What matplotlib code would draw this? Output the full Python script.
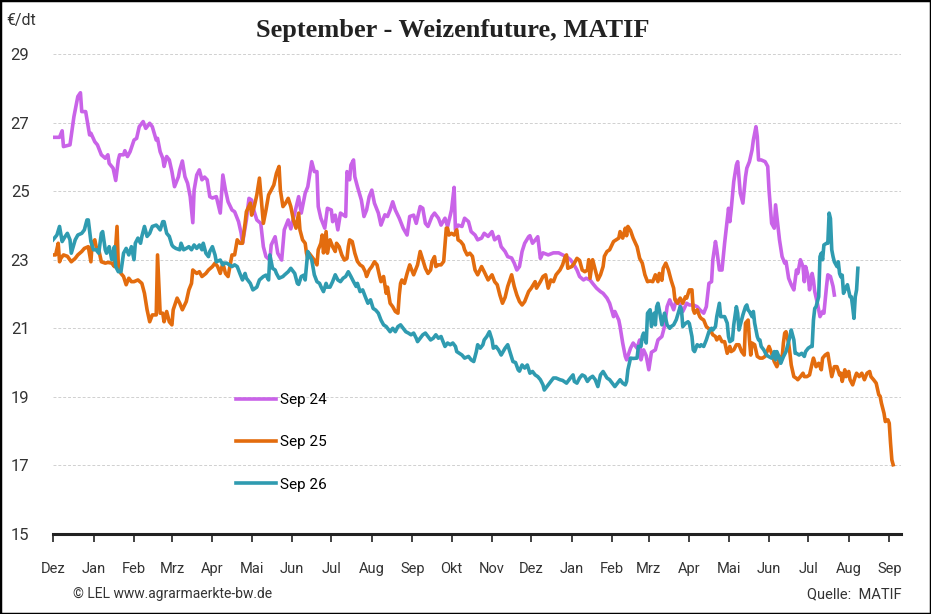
import numpy as np
import pandas as pd
import matplotlib
matplotlib.use("Agg")
import matplotlib.pyplot as plt
from matplotlib.patches import Rectangle

# days since 2023-12-01 and prices in EUR/dt
sep24_days = [0, 5, 7, 8, 13, 16, 19, 21, 22, 25, 28, 29, 32, 34, 37, 40, 42, 43, 46, 48, 50, 51, 54, 55, 57, 59,
              62, 64, 66, 69, 71, 74, 76, 79, 80, 82, 84, 85, 87, 89, 91, 93, 96, 97, 99, 101, 103, 105, 107, 108,
              110, 112, 114, 116, 118, 120, 122, 125, 128, 130, 132, 134, 137, 139, 142, 144, 145, 148, 150, 152,
              154, 156, 159, 161, 163, 166, 167, 170, 172, 175, 177, 180, 182, 185, 188, 190, 193, 195, 198, 200,
              202, 203, 205, 208, 210, 213, 214, 216, 218, 220, 222, 224, 225, 227, 228, 230, 231, 233, 236, 238,
              240, 242, 244, 246, 249, 251, 254, 256, 258, 260, 262, 265, 268, 271, 273, 276, 278, 281, 283, 285,
              287, 290, 292, 295, 297, 300, 302, 305, 307, 308, 310, 313, 315, 318, 320, 323, 325, 328, 330, 333,
              336, 338, 341, 343, 346, 348, 351, 353, 355, 357, 359, 361, 364, 365, 367, 369, 371, 373, 375, 379,
              383, 387, 390, 393, 396, 398, 401, 403, 406, 408, 411, 413, 416, 419, 421, 424, 426, 429, 430, 433,
              434, 436, 438, 439, 442, 444, 447, 449, 450, 452, 454, 456, 458, 461, 463, 466, 468, 470, 472, 475,
              477, 480, 482, 485, 487, 490, 493, 495, 498, 500, 502, 504, 505, 507, 508, 510, 512, 514, 516, 517,
              518, 519, 521, 523, 524, 526, 528, 530, 531, 533, 535, 536, 538, 539, 540, 542, 545, 547, 548, 550,
              552, 553, 555, 556, 558, 560, 561, 563, 565, 567, 569, 570, 572, 574, 575, 576, 578, 579, 581, 582,
              583, 585, 587, 589, 590, 592, 593, 595, 597, 598]
sep24_vals = [26.57, 26.57, 26.76, 26.30, 26.35, 27.17, 27.76, 27.87, 27.32, 27.32, 26.64, 26.69, 26.44, 26.35,
              26.06, 25.96, 26.06, 25.81, 25.67, 25.31, 25.91, 26.06, 26.06, 26.18, 26.01, 26.15, 26.49, 26.54,
              26.88, 27.03, 26.83, 26.98, 26.88, 26.49, 26.54, 26.15, 25.96, 25.72, 26.01, 25.91, 25.57, 25.13,
              25.42, 25.62, 25.88, 25.42, 25.23, 24.84, 24.08, 25.03, 25.47, 25.62, 25.33, 25.41, 25.33, 24.84,
              24.80, 24.84, 24.36, 25.47, 25.03, 24.69, 24.45, 24.40, 24.11, 23.77, 23.48, 24.16, 24.79, 24.74,
              24.40, 24.16, 24.06, 23.38, 23.09, 22.99, 23.43, 23.67, 23.19, 22.99, 23.87, 24.16, 23.90, 24.36,
              24.84, 24.36, 24.94, 25.13, 25.86, 25.57, 25.57, 24.55, 24.21, 23.92, 24.50, 24.45, 24.11, 24.30,
              23.87, 24.36, 24.31, 24.26, 25.57, 25.33, 25.76, 25.91, 25.42, 25.13, 24.74, 24.26, 24.45, 24.84,
              25.03, 24.65, 24.36, 24.01, 24.31, 24.26, 24.45, 24.69, 24.45, 24.21, 23.92, 23.72, 24.26, 24.30,
              24.06, 24.55, 24.50, 24.06, 23.97, 24.26, 24.36, 24.21, 24.01, 24.21, 23.97, 24.45, 25.11, 23.87,
              24.01, 23.97, 24.21, 24.11, 23.82, 23.72, 23.58, 23.63, 23.77, 23.68, 23.82, 23.58, 23.68, 23.38,
              23.24, 23.09, 23.05, 22.90, 22.70, 22.80, 23.24, 23.48, 23.67, 23.70, 23.48, 23.57, 23.67, 23.04,
              23.20, 23.14, 23.20, 23.20, 23.14, 23.09, 23.00, 22.90, 22.70, 22.51, 22.41, 22.46, 22.41, 22.31,
              22.17, 22.07, 22.02, 21.88, 21.73, 21.34, 21.49, 21.24, 21.05, 20.57, 20.18, 20.08, 20.42, 20.57,
              20.42, 20.66, 20.08, 20.37, 20.20, 19.79, 20.30, 20.37, 20.66, 20.76, 21.05, 21.63, 21.83, 21.54,
              21.83, 21.68, 21.49, 21.73, 21.68, 21.68, 21.63, 21.54, 21.44, 21.63, 22.31, 22.36, 23.00, 23.53,
              23.29, 22.70, 22.70, 23.48, 24.16, 24.50, 24.11, 24.45, 25.28, 25.76, 25.86, 24.94, 24.65, 25.42,
              25.67, 25.86, 26.20, 26.49, 26.88, 26.59, 25.91, 25.91, 25.86, 25.72, 25.03, 24.06, 23.92, 24.60,
              23.92, 23.58, 23.09, 22.90, 22.95, 22.46, 22.27, 22.12, 22.70, 22.60, 23.00, 22.80, 22.36, 22.80,
              22.50, 22.12, 22.60, 22.40, 22.07, 21.73, 21.34, 21.49, 21.44, 22.22, 22.56, 22.51, 22.22, 21.97]

sep25_days = [0, 2, 4, 5, 6, 8, 11, 14, 17, 19, 22, 24, 27, 29, 30, 32, 33, 35, 37, 40, 42, 45, 47, 49, 50, 52,
              54, 56, 58, 60, 62, 65, 68, 70, 72, 74, 76, 79, 80, 82, 84, 85, 87, 89, 91, 92, 95, 97, 99, 102, 104,
              106, 107, 110, 112, 114, 117, 119, 122, 124, 126, 128, 130, 132, 134, 136, 137, 139, 141, 143, 145,
              147, 148, 151, 152, 154, 156, 158, 159, 161, 163, 165, 167, 169, 171, 173, 174, 176, 178, 180, 182,
              184, 186, 188, 189, 191, 193, 194, 195, 196, 199, 200, 202, 203, 205, 206, 207, 209, 210, 212, 214,
              216, 217, 219, 221, 223, 225, 226, 227, 229, 231, 233, 235, 237, 239, 240, 242, 244, 246, 248, 250,
              251, 253, 255, 256, 258, 260, 262, 264, 265, 266, 267, 269, 271, 273, 274, 276, 278, 279, 281, 283,
              285, 287, 289, 290, 292, 293, 295, 297, 299, 301, 302, 303, 305, 307, 309, 310, 312, 314, 315, 317,
              319, 321, 323, 325, 328, 330, 333, 336, 338, 340, 342, 344, 346, 348, 351, 353, 355, 357, 359, 361,
              364, 366, 369, 370, 373, 375, 377, 379, 381, 383, 385, 388, 390, 392, 393, 394, 397, 399, 401, 403,
              405, 407, 409, 410, 411, 413, 415, 417, 419, 421, 422, 424, 426, 429, 431, 433, 434, 436, 438, 439,
              440, 442, 444, 447, 449, 451, 453, 455, 457, 459, 461, 463, 464, 466, 467, 469, 471, 473, 475, 476,
              478, 480, 482, 484, 485, 487, 489, 490, 491, 493, 495, 496, 498, 500, 503, 505, 507, 508, 510, 512,
              514, 516, 518, 519, 521, 523, 525, 527, 529, 530, 532, 533, 534, 535, 537, 539, 541, 543, 545, 547,
              548, 550, 552, 554, 555, 556, 558, 559, 560, 561, 563, 564, 565, 567, 569, 570, 572, 574, 575, 577,
              579, 581, 582, 584, 586, 588, 589, 591, 593, 594, 596, 598, 600, 602, 603, 604, 606, 607, 609, 610,
              612, 614, 615, 617, 619, 621, 623, 625, 626, 628, 630, 632, 633, 634, 636, 637, 639, 640, 641, 642,
              643]
sep25_vals = [23.14, 23.14, 23.48, 22.94, 23.04, 23.14, 23.10, 22.94, 23.04, 23.14, 23.24, 23.33, 23.38, 22.94,
              23.48, 23.58, 23.38, 23.29, 22.94, 22.90, 22.92, 22.90, 22.80, 23.97, 22.80, 22.60, 22.51, 22.27,
              22.46, 22.36, 22.36, 22.41, 22.31, 22.02, 21.54, 21.19, 21.39, 21.39, 23.14, 21.44, 21.44, 21.19,
              21.49, 21.19, 21.10, 21.54, 21.88, 21.73, 21.54, 21.78, 22.12, 22.31, 22.70, 22.60, 22.65, 22.51,
              22.60, 22.70, 22.80, 22.90, 22.80, 22.60, 22.90, 22.60, 22.51, 22.94, 23.14, 23.14, 23.58, 23.48,
              23.48, 24.06, 24.40, 24.65, 24.30, 24.55, 24.89, 25.38, 24.94, 24.06, 24.45, 24.89, 25.03, 25.18,
              25.52, 25.72, 25.03, 24.55, 24.65, 24.79, 24.55, 24.16, 23.92, 24.36, 23.87, 23.58, 23.48, 23.19,
              23.04, 23.19, 23.04, 22.99, 22.85, 23.29, 23.48, 23.72, 23.20, 23.82, 23.19, 23.58, 23.38, 23.24,
              23.48, 23.38, 23.14, 22.99, 23.04, 23.38, 23.58, 23.53, 23.19, 22.95, 22.85, 22.80, 22.65, 22.51,
              22.70, 22.80, 22.94, 22.85, 22.51, 22.36, 22.51, 22.02, 22.20, 21.73, 21.63, 21.49, 21.44, 21.97,
              22.31, 22.41, 22.31, 22.60, 22.85, 22.75, 22.56, 22.75, 22.85, 23.24, 23.00, 22.75, 22.60, 22.70,
              22.94, 23.09, 22.80, 22.85, 22.85, 22.95, 23.92, 23.92, 23.72, 23.77, 23.72, 23.87, 23.58, 23.53,
              23.43, 23.29, 23.14, 23.19, 23.10, 22.70, 22.56, 22.80, 22.65, 22.41, 22.56, 22.36, 22.27, 21.97,
              21.73, 21.90, 22.22, 22.56, 22.22, 21.97, 21.78, 21.68, 21.78, 22.07, 22.17, 22.36, 22.17, 22.36,
              22.51, 22.56, 22.17, 22.41, 22.36, 22.56, 22.70, 22.85, 23.09, 23.14, 22.75, 22.80, 22.90, 23.04,
              22.98, 22.70, 22.65, 22.70, 23.00, 22.46, 23.00, 22.70, 22.41, 22.56, 22.80, 23.10, 23.24, 23.29,
              23.53, 23.58, 23.63, 23.82, 23.63, 23.92, 23.70, 23.97, 23.85, 23.63, 23.38, 23.04, 22.90, 22.56,
              22.36, 22.38, 22.36, 22.56, 22.36, 22.60, 22.40, 22.75, 22.90, 22.70, 22.41, 22.17, 21.83, 21.73,
              21.88, 21.73, 21.92, 21.88, 22.12, 22.12, 21.54, 21.44, 21.54, 21.34, 21.29, 21.24, 21.05, 20.95,
              20.81, 20.76, 20.66, 20.76, 20.61, 20.61, 20.27, 20.47, 20.32, 20.37, 20.52, 20.52, 20.32, 20.22,
              21.15, 21.24, 20.66, 20.22, 20.57, 20.52, 20.18, 20.13, 20.13, 20.18, 20.37, 20.47, 20.27, 20.03,
              19.88, 19.98, 20.18, 20.13, 20.57, 20.86, 20.90, 20.57, 20.27, 19.93, 19.59, 19.54, 19.50, 19.59,
              19.69, 19.59, 19.59, 19.64, 19.98, 20.13, 19.88, 19.98, 19.79, 20.13, 20.22, 20.27, 20.03, 19.59,
              19.88, 19.88, 19.64, 19.69, 19.45, 19.79, 19.59, 19.74, 19.50, 19.35, 19.59, 19.69, 19.59, 19.69,
              19.50, 19.69, 19.74, 19.59, 19.50, 19.40, 19.06, 19.02, 18.82, 18.52, 18.28, 18.33, 18.23, 17.65,
              17.16, 17.02]

sep26_days = [0, 3, 5, 7, 9, 11, 13, 14, 17, 19, 22, 24, 26, 27, 29, 31, 33, 35, 37, 38, 40, 41, 43, 45, 47, 48,
              50, 52, 54, 56, 58, 60, 62, 63, 65, 67, 68, 70, 72, 74, 76, 79, 80, 82, 84, 85, 87, 89, 91, 92, 94,
              97, 98, 100, 102, 104, 106, 108, 110, 112, 114, 115, 117, 119, 120, 122, 124, 125, 128, 130, 131, 133,
              135, 137, 139, 141, 143, 145, 147, 148, 151, 153, 156, 158, 161, 163, 165, 166, 168, 170, 171, 173,
              176, 177, 180, 182, 185, 187, 188, 190, 192, 193, 195, 196, 198, 200, 202, 204, 205, 207, 209, 210,
              212, 214, 216, 218, 220, 222, 224, 226, 228, 230, 232, 233, 235, 237, 239, 241, 243, 245, 247, 249,
              251, 253, 255, 256, 258, 260, 262, 264, 266, 268, 270, 272, 274, 276, 278, 279, 281, 283, 285, 287,
              289, 291, 293, 295, 297, 298, 300, 302, 304, 306, 308, 309, 311, 313, 315, 318, 320, 322, 324, 325,
              327, 329, 330, 332, 334, 336, 337, 339, 341, 343, 346, 348, 350, 352, 354, 356, 357, 359, 361, 363,
              365, 367, 369, 371, 373, 375, 376, 378, 380, 383, 385, 388, 390, 393, 396, 398, 399, 401, 403, 405,
              407, 409, 411, 413, 415, 417, 419, 421, 424, 426, 428, 430, 433, 434, 436, 438, 439, 440, 442, 444,
              447, 448, 450, 451, 452, 454, 455, 457, 458, 460, 461, 462, 463, 464, 466, 468, 470, 472, 473, 475,
              477, 480, 481, 482, 484, 486, 487, 489, 490, 491, 493, 495, 496, 498, 500, 502, 504, 505, 507, 508,
              510, 511, 512, 514, 516, 517, 518, 520, 521, 523, 524, 525, 527, 528, 530, 531, 532, 533, 535, 536,
              537, 539, 540, 541, 542, 544, 546, 548, 550, 552, 553, 554, 556, 557, 559, 561, 563, 564, 565, 567,
              568, 569, 571, 573, 575, 576, 578, 580, 581, 582, 583, 584, 586, 587, 588, 589, 590, 592, 593, 594,
              595, 596, 597, 598, 600, 601, 602, 603, 604, 605, 607, 608, 609, 610, 611, 612, 613, 614, 615, 616]
sep26_vals = [23.58, 23.72, 23.97, 23.53, 23.66, 23.77, 23.58, 23.19, 23.58, 23.72, 23.77, 23.87, 24.16, 24.16,
              23.53, 23.29, 23.29, 23.19, 23.77, 23.82, 23.29, 23.19, 23.38, 23.00, 23.38, 22.80, 22.65, 22.65,
              23.19, 23.33, 23.14, 23.38, 23.00, 23.48, 23.63, 23.48, 23.68, 23.97, 23.68, 23.77, 23.97, 24.01,
              23.97, 23.87, 24.11, 24.11, 23.77, 23.68, 23.43, 23.38, 23.33, 23.29, 23.48, 23.29, 23.33, 23.38,
              23.29, 23.43, 23.33, 23.43, 23.29, 23.48, 23.19, 23.09, 23.24, 23.38, 23.14, 22.94, 22.99, 22.85,
              22.90, 22.90, 22.85, 22.80, 22.85, 22.80, 22.60, 22.41, 22.60, 22.46, 22.31, 22.12, 22.20, 22.41,
              22.51, 22.55, 22.41, 23.14, 22.75, 22.70, 22.60, 22.46, 22.51, 22.55, 22.65, 22.75, 22.60, 22.31,
              22.28, 22.51, 22.55, 22.41, 23.24, 23.14, 23.00, 22.56, 22.36, 22.31, 22.22, 22.07, 22.31, 22.20,
              22.20, 22.36, 22.56, 22.41, 22.36, 22.46, 22.51, 22.65, 22.51, 22.36, 22.22, 22.31, 22.07, 22.12,
              21.92, 21.73, 21.83, 21.58, 21.53, 21.44, 21.24, 21.10, 21.05, 21.00, 20.90, 21.00, 20.90, 21.05,
              21.10, 21.00, 20.90, 20.86, 20.81, 20.86, 20.71, 20.61, 20.71, 20.81, 20.86, 20.76, 20.66, 20.71,
              20.81, 20.71, 20.76, 20.66, 20.47, 20.57, 20.52, 20.57, 20.47, 20.32, 20.27, 20.22, 20.13, 20.18,
              20.08, 20.03, 20.32, 20.52, 20.42, 20.52, 20.66, 20.76, 20.90, 20.66, 20.42, 20.47, 20.37, 20.22,
              20.42, 20.52, 20.27, 20.03, 20.00, 19.79, 19.75, 19.93, 19.84, 19.93, 19.69, 19.74, 19.64, 19.59,
              19.50, 19.35, 19.20, 19.30, 19.40, 19.55, 19.55, 19.50, 19.48, 19.40, 19.55, 19.64, 19.45, 19.40,
              19.55, 19.64, 19.60, 19.45, 19.55, 19.60, 19.50, 19.30, 19.64, 19.74, 19.55, 19.50, 19.40, 19.30,
              19.45, 19.50, 19.40, 19.35, 19.45, 19.79, 20.13, 20.12, 20.13, 20.47, 20.47, 20.76, 20.86, 20.57,
              21.44, 21.54, 21.05, 21.44, 21.10, 21.63, 21.73, 21.54, 21.10, 21.44, 21.10, 21.00, 21.05, 21.10,
              21.25, 21.63, 21.54, 21.05, 21.14, 21.19, 21.14, 20.76, 20.37, 20.32, 20.52, 20.47, 20.52, 20.47,
              20.66, 20.90, 21.00, 20.95, 21.05, 21.34, 21.73, 21.34, 21.34, 21.34, 21.15, 20.76, 20.61, 20.66,
              21.10, 21.63, 21.44, 20.95, 21.24, 21.39, 21.63, 21.68, 21.53, 21.49, 21.34, 21.49, 21.15, 20.76,
              20.66, 20.66, 20.47, 20.37, 20.22, 20.17, 20.13, 20.32, 20.08, 20.32, 20.13, 19.98, 20.17, 20.32,
              20.61, 20.76, 20.95, 20.66, 20.27, 20.27, 20.22, 20.27, 20.18, 20.32, 20.42, 20.47, 20.47, 21.24,
              21.58, 21.63, 21.92, 23.09, 23.19, 23.00, 23.43, 23.48, 23.48, 24.36, 24.20, 23.29, 23.09, 22.94,
              22.80, 22.94, 22.60, 22.50, 22.55, 22.02, 22.20, 22.27, 22.10, 21.92, 21.92, 21.63, 21.29, 21.92,
              22.12, 22.75]

series_names = ["Sep 24", "Sep 25", "Sep 26"]
series_colors = ["#c963e8", "#e36c0e", "#2f9bb0"]
month_labels = ["Dez", "Jan", "Feb", "Mrz", "Apr", "Mai", "Jun", "Jul", "Aug", "Sep", "Okt", "Nov",
                "Dez", "Jan", "Feb", "Mrz", "Apr", "Mai", "Jun", "Jul", "Aug", "Sep"]
y_ticks = [15, 17, 19, 21, 23, 25, 27, 29]

start = pd.Timestamp("2023-12-01")
month_starts = pd.date_range("2023-12-01", "2025-09-01", freq="MS")

fig = plt.figure(figsize=(9.31, 6.14), dpi=100)
ax = fig.add_axes([53 / 931, 80 / 614, 848 / 931, 480 / 614])

for days, vals, name, col in zip([sep24_days, sep25_days, sep26_days],
                                 [sep24_vals, sep25_vals, sep26_vals],
                                 series_names, series_colors):
    dates = start + pd.to_timedelta(days, unit="D")
    ax.plot(dates, vals, color=col, linewidth=2.6, label=name, solid_joinstyle="round")

ax.set_ylim(15, 29)
ax.set_xlim(start, start + pd.Timedelta(days=649))
ax.set_yticks(y_ticks)
ax.set_yticklabels([str(t) for t in y_ticks], fontsize=12, family="Roboto", color="#333333")
ax.set_xticks(month_starts)
ax.set_xticklabels(month_labels, fontsize=10.5, family="Roboto", color="#333333")
ax.tick_params(axis="y", length=0, pad=17)
ax.tick_params(axis="x", length=6, width=1.2, color="#222222", pad=14, direction="out")
ax.grid(axis="y", color="#d0d0d0", linestyle=(0, (3, 2)), linewidth=0.7)
ax.set_axisbelow(True)
for side in ["left", "right", "top"]:
    ax.spines[side].set_visible(False)
ax.spines["bottom"].set_linewidth(2.2)
ax.spines["bottom"].set_color("#222222")

ax.legend(loc="upper left", bbox_to_anchor=(236 / 931, 1 - 393 / 614), bbox_transform=fig.transFigure,
          frameon=False, prop={"family": "Roboto", "size": 11}, handlelength=2.6,
          handletextpad=0.25, labelspacing=1.85, borderpad=0, borderaxespad=0)

fig.text(453 / 931, 1 - 31 / 614, "September - Weizenfuture, MATIF", ha="center", va="center",
         fontsize=19, fontweight="bold", family="Liberation Serif", color="#222222")
fig.text(6 / 931, 1 - 20 / 614, "€/dt", ha="left", va="center", fontsize=11.5, family="Roboto",
         color="#333333")
fig.text(73 / 931, 1 - 594 / 614, "© LEL www.agrarmaerkte-bw.de", ha="left", va="center",
         fontsize=10, family="Roboto", color="#333333")
fig.text(902 / 931, 1 - 594 / 614, "Quelle:  MATIF", ha="right", va="center", fontsize=10.5,
         family="Roboto", color="#333333")

fig.patches.append(Rectangle((0, 0), 1, 1, transform=fig.transFigure, fill=False,
                             edgecolor="black", linewidth=2.5))

fig.savefig("out.png", dpi=100)
